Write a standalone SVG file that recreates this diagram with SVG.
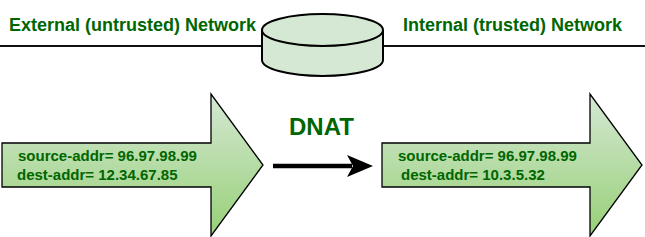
<svg xmlns="http://www.w3.org/2000/svg" width="645" height="237" viewBox="0 0 645 237">
<defs>
<linearGradient id="g" x1="0" y1="0" x2="0" y2="1">
<stop offset="0" stop-color="#d5e8d4"/>
<stop offset="1" stop-color="#97d077"/>
</linearGradient>
<style>
.t{font-family:"Liberation Sans",Arial,sans-serif;font-weight:bold;fill:#006600}
.big{font-size:18px}
.s{font-size:15px}
.arr{fill:url(#g);stroke:#000;stroke-width:1.3}
</style>
</defs>
<rect width="645" height="237" fill="#fff"/>
<g id="connectors">
<path d="M0,46 H262 M383,46 H645" stroke="#111" stroke-width="2" fill="none"/>
<path d="M273,166 H352" stroke="#000" stroke-width="4.5" fill="none"/>
<path d="M373,166 L347,155 L353,166 L347,177 Z" fill="#000"/>
</g>
<g id="title-ext"><text class="t big" x="9" y="31">External (untrusted) Network</text></g>
<g id="title-int"><text class="t big" x="403" y="31">Internal (trusted) Network</text></g>
<g id="firewall">
<path d="M262,30 A60.5,16 0 0 1 383,30 L383,60 A60.5,16 0 0 1 262,60 Z" fill="#d5e8d4" stroke="#000" stroke-width="2"/>
<path d="M262,30 A60.5,16 0 0 0 383,30" fill="none" stroke="#000" stroke-width="2"/>
</g>
<g id="packet-in">
<path class="arr" d="M2,143 H211 V94 L263,165 L211,236 V187 H2 Z"/>
<text class="t s" x="18" y="161">source-addr= 96.97.98.99</text>
<text class="t s" x="17" y="180">dest-addr= 12.34.67.85</text>
</g>
<g id="dnat"><text class="t" x="289" y="135" font-size="24">DNAT</text></g>
<g id="packet-out">
<path class="arr" d="M382,143 H590 V94 L642,165 L590,236 V187 H382 Z"/>
<text class="t s" x="398" y="161">source-addr= 96.97.98.99</text>
<text class="t s" x="401" y="180">dest-addr= 10.3.5.32</text>
</g>
</svg>
